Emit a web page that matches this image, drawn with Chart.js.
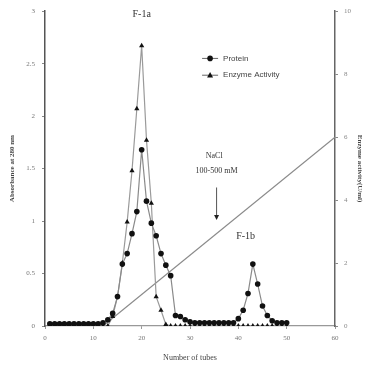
<!DOCTYPE html>
<html>
<head>
<meta charset="utf-8">
<script src="https://cdn.jsdelivr.net/npm/chart.js@4"></script>
<style>
  html, body { margin: 0; padding: 0; background: #fff; }
  #wrap { width: 368px; height: 367px; }
</style>
</head>
<body>
<div id="wrap"><canvas id="chart"></canvas></div>
<script>
// Tube numbers
const tubes = [1, 2, 3, 4, 5, 6, 7, 8, 9, 10, 11, 12, 13, 14, 15, 16, 17, 18, 19, 20,
    21, 22, 23, 24, 25, 26, 27, 28, 29, 30, 31, 32, 33, 34, 35, 36, 37, 38, 39, 40,
    41, 42, 43, 44, 45, 46, 47, 48, 49, 50];

// Absorbance at 280 nm (left axis)
const protein = [0.02, 0.02, 0.02, 0.02, 0.02, 0.02, 0.02, 0.02, 0.02, 0.02,
    0.02, 0.03, 0.06, 0.12, 0.28, 0.59, 0.69, 0.88, 1.09, 1.68,
    1.19, 0.98, 0.86, 0.69, 0.58, 0.48, 0.10, 0.09, 0.06, 0.04,
    0.03, 0.03, 0.03, 0.03, 0.03, 0.03, 0.03, 0.03, 0.03, 0.07,
    0.15, 0.31, 0.59, 0.40, 0.19, 0.10, 0.05, 0.03, 0.03, 0.03];

// Enzyme activity U/ml (right axis)
const enzyme = [0, 0, 0, 0, 0, 0, 0, 0, 0, 0,
    0, 0, 0, 0.3, 0.93, 2.0, 3.3, 4.93, 6.9, 8.9,
    5.9, 3.9, 0.93, 0.5, 0.05, 0, 0, 0, 0, 0,
    0, 0, 0, 0, 0, 0, 0, 0, 0, 0,
    0, 0, 0, 0, 0, 0, 0, 0, 0, 0];

// NaCl gradient line (right axis scale)
const gradientTubes = [12, 60];
const gradientValues = [0, 6];

const xTicks = [0, 10, 20, 30, 40, 50, 60];

const toPoints = (xs, ys) => xs.map((x, i) => ({ x: x, y: ys[i] }));

// Text labels placed in data coordinates
const annotations = [
    { text: 'F-1a', x: 20, y: 2.97, size: 10 },
    { text: 'F-1b', x: 41.5, y: 0.85, size: 10 },
    { text: 'NaCl', x: 35, y: 1.62, size: 8 },
    { text: '100-500 mM', x: 35.5, y: 1.48, size: 8 }
];

const overlay = {
    id: 'overlay',
    afterDraw(chart) {
        const ctx = chart.ctx;
        const xs = chart.scales.x;
        const ys = chart.scales.y;
        ctx.save();
        ctx.fillStyle = '#333';
        ctx.textAlign = 'center';
        ctx.textBaseline = 'middle';
        annotations.forEach(a => {
            ctx.font = a.size + 'px "Liberation Serif", serif';
            ctx.fillText(a.text, xs.getPixelForValue(a.x), ys.getPixelForValue(a.y));
        });

        // arrow pointing down at gradient
        const ax = xs.getPixelForValue(35.5);
        const ay1 = ys.getPixelForValue(1.32);
        const ay2 = ys.getPixelForValue(1.02);
        ctx.strokeStyle = '#555';
        ctx.lineWidth = 1;
        ctx.beginPath();
        ctx.moveTo(ax, ay1);
        ctx.lineTo(ax, ay2);
        ctx.stroke();
        ctx.fillStyle = '#222';
        ctx.beginPath();
        ctx.moveTo(ax - 2.5, ay2 - 4);
        ctx.lineTo(ax + 2.5, ay2 - 4);
        ctx.lineTo(ax, ay2 + 1);
        ctx.closePath();
        ctx.fill();

        // legend
        const lx = xs.getPixelForValue(32.5);
        const rows = [
            { label: 'Protein', style: 'circle', y: ys.getPixelForValue(2.55) },
            { label: 'Enzyme Activity', style: 'triangle', y: ys.getPixelForValue(2.39) }
        ];
        ctx.font = '8px "Liberation Sans", Arial, sans-serif';
        ctx.textAlign = 'left';
        rows.forEach(r => {
            ctx.strokeStyle = '#666';
            ctx.beginPath();
            ctx.moveTo(lx, r.y);
            ctx.lineTo(lx + 16, r.y);
            ctx.stroke();
            ctx.fillStyle = '#111';
            ctx.beginPath();
            if (r.style === 'circle') {
                ctx.arc(lx + 8, r.y, 2.8, 0, Math.PI * 2);
            } else {
                ctx.moveTo(lx + 8, r.y - 3.2);
                ctx.lineTo(lx + 11, r.y + 2.2);
                ctx.lineTo(lx + 5, r.y + 2.2);
                ctx.closePath();
            }
            ctx.fill();
            ctx.fillStyle = '#444';
            ctx.fillText(r.label, lx + 21, r.y);
        });
        ctx.restore();
    }
};

new Chart(document.getElementById('chart').getContext('2d'), {
    type: 'line',
    data: {
        datasets: [{
            label: 'NaCl',
            data: toPoints(gradientTubes, gradientValues),
            yAxisID: 'y1',
            borderColor: '#8a8a8a',
            borderWidth: 1.2,
            pointRadius: 0,
            order: 3
        }, {
            label: 'Enzyme Activity',
            data: toPoints(tubes, enzyme),
            yAxisID: 'y1',
            borderColor: '#9a9a9a',
            borderWidth: 1.2,
            pointStyle: 'triangle',
            pointRadius: 3,
            pointBackgroundColor: '#111',
            pointBorderColor: '#111',
            pointBorderWidth: 0,
            order: 2
        }, {
            label: 'Protein',
            data: toPoints(tubes, protein),
            yAxisID: 'y',
            borderColor: '#8a8a8a',
            borderWidth: 1.2,
            pointStyle: 'circle',
            pointRadius: 2.8,
            pointBackgroundColor: '#111',
            pointBorderColor: '#111',
            pointBorderWidth: 0,
            order: 1
        }]
    },
    options: {
        responsive: true,
        maintainAspectRatio: false,
        animation: false,
        layout: { padding: { top: 10, right: 0, left: 0, bottom: 0 } },
        plugins: {
            legend: { display: false },
            tooltip: { enabled: false }
        },
        scales: {
            x: {
                type: 'linear',
                min: 0,
                max: 60,
                afterBuildTicks: s => { s.ticks = xTicks.map(v => ({ value: v })); },
                afterFit: s => { s.height = 41; },
                grid: { drawOnChartArea: false, tickLength: 3, color: '#999' },
                border: { color: '#999', width: 1.2 },
                ticks: { color: '#777', padding: 5, font: { size: 7, family: '"Liberation Serif", serif' } },
                title: {
                    display: true,
                    text: 'Number of tubes',
                    color: '#444',
                    padding: { top: 9 },
                    font: { size: 8, family: '"Liberation Serif", serif' }
                }
            },
            y: {
                position: 'left',
                min: 0,
                max: 3,
                ticks: {
                    stepSize: 0.5,
                    color: '#777',
                    padding: 7,
                    callback: v => String(v),
                    font: { size: 7, family: '"Liberation Serif", serif' }
                },
                afterFit: s => { s.width = 45; },
                grid: { drawOnChartArea: false, tickLength: 3, color: '#888' },
                border: { color: '#555', width: 1.5 },
                title: {
                    display: true,
                    text: 'Absorbance at 280 nm',
                    color: '#444',
                    padding: { top: 8, bottom: 4 },
                    font: { size: 7, weight: 'bold', family: '"Liberation Serif", serif' }
                }
            },
            y1: {
                position: 'right',
                min: 0,
                max: 10,
                ticks: {
                    stepSize: 2,
                    color: '#888',
                    padding: 6,
                    font: { size: 7, family: '"Liberation Serif", serif' }
                },
                afterFit: s => { s.width = 33; },
                grid: { drawOnChartArea: false, tickLength: 3, color: '#888' },
                border: { color: '#666', width: 1.5 },
                title: {
                    display: true,
                    text: 'Enzyme activity(U/ml)',
                    color: '#444',
                    padding: { top: 4 },
                    font: { size: 7, weight: 'bold', family: '"Liberation Serif", serif' }
                }
            }
        }
    },
    plugins: [overlay]
});
</script>
</body>
</html>
